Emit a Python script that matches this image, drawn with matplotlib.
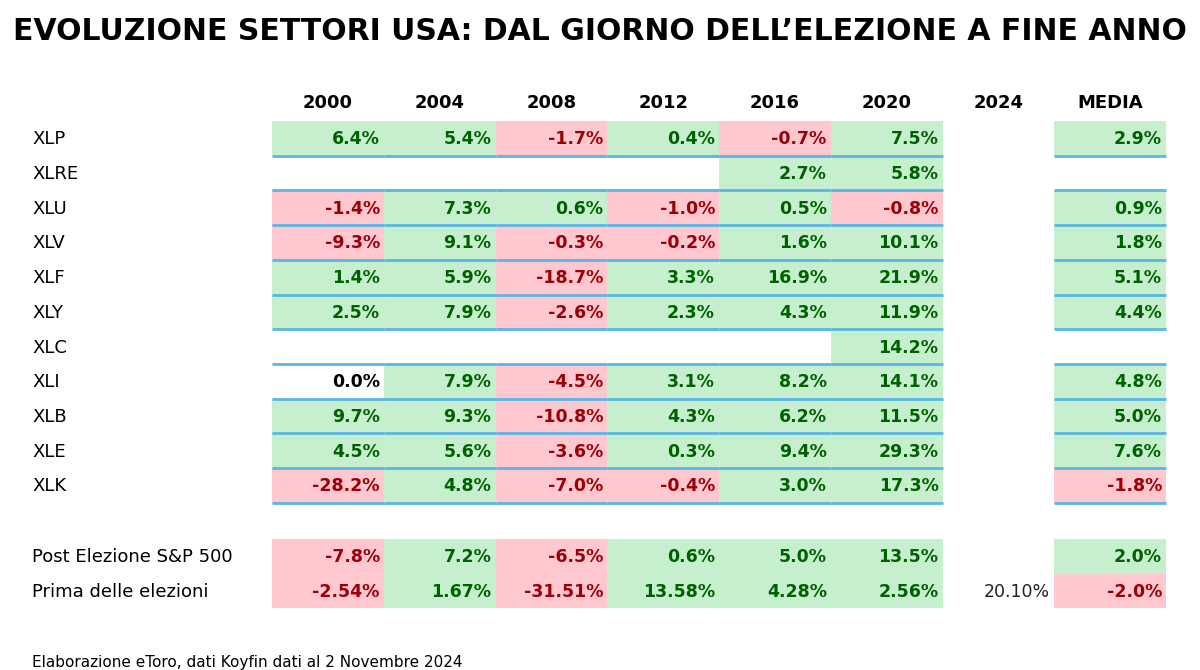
import matplotlib
matplotlib.use("Agg")
import matplotlib.pyplot as plt
from matplotlib.patches import Rectangle

years = ["2000", "2004", "2008", "2012", "2016", "2020", "2024", "MEDIA"]
sectors = ["XLP", "XLRE", "XLU", "XLV", "XLF", "XLY", "XLC", "XLI", "XLB", "XLE", "XLK"]
N = None
sector_vals = [
    [6.4, 5.4, -1.7, 0.4, -0.7, 7.5, N, 2.9],
    [N, N, N, N, 2.7, 5.8, N, N],
    [-1.4, 7.3, 0.6, -1.0, 0.5, -0.8, N, 0.9],
    [-9.3, 9.1, -0.3, -0.2, 1.6, 10.1, N, 1.8],
    [1.4, 5.9, -18.7, 3.3, 16.9, 21.9, N, 5.1],
    [2.5, 7.9, -2.6, 2.3, 4.3, 11.9, N, 4.4],
    [N, N, N, N, N, 14.2, N, N],
    [0.0, 7.9, -4.5, 3.1, 8.2, 14.1, N, 4.8],
    [9.7, 9.3, -10.8, 4.3, 6.2, 11.5, N, 5.0],
    [4.5, 5.6, -3.6, 0.3, 9.4, 29.3, N, 7.6],
    [-28.2, 4.8, -7.0, -0.4, 3.0, 17.3, N, -1.8],
]
post_label = "Post Elezione S&P 500"
post_vals = [-7.8, 7.2, -6.5, 0.6, 5.0, 13.5, N, 2.0]
prima_label = "Prima delle elezioni"
prima_vals = [-2.54, 1.67, -31.51, 13.58, 4.28, 2.56, 20.10, -2.0]

GREEN_BG, GREEN_TX = "#C6EFCE", "#006100"
RED_BG, RED_TX = "#FFC7CE", "#9C0006"
BLUE = "#5BB5E6"

fig = plt.figure(figsize=(12, 6.7), dpi=100)
ax = fig.add_axes([0, 0, 1, 1])
ax.set_xlim(0, 1200); ax.set_ylim(670, 0); ax.axis("off")

x0, cw = 272, 111.75
rh = 34.7
top0 = 121

fig.text(0.5, 1 - 32 / 670, "EVOLUZIONE SETTORI USA: DAL GIORNO DELL\u2019ELEZIONE A FINE ANNO",
         ha="center", va="center", fontsize=21.5, fontweight="heavy",
         family="DejaVu Sans")

for j, y in enumerate(years):
    ax.text(x0 + cw * (j + 0.5), 103, y, ha="center", va="center",
            fontsize=13, fontweight="bold")

def cell(j, top, v, decimals, colored=True):
    left = x0 + cw * j
    if colored:
        if v > 0:
            bg, tx = GREEN_BG, GREEN_TX
        elif v < 0:
            bg, tx = RED_BG, RED_TX
        else:
            bg, tx = "white", "black"
        ax.add_patch(Rectangle((left, top), cw, rh, facecolor=bg, edgecolor="none"))
        weight = "bold"
    else:
        tx, weight = "#222222", "normal"
    ax.text(left + cw - 4, top + rh / 2 + 1, f"{v:.{decimals}f}%", ha="right",
            va="center", fontsize=12.5, fontweight=weight, color=tx)

for i, (name, row) in enumerate(zip(sectors, sector_vals)):
    top = top0 + rh * i
    ax.text(32, top + rh / 2 + 1, name, ha="left", va="center", fontsize=13)
    for j, v in enumerate(row):
        if v is None:
            continue
        cell(j, top, v, 1)
        left = x0 + cw * j
        ax.plot([left, left + cw], [top + rh, top + rh], color=BLUE, lw=2, solid_capstyle="butt")
        if i > 0 and sector_vals[i - 1][j] is None:
            ax.plot([left, left + cw], [top, top], color=BLUE, lw=2, solid_capstyle="butt")

for k, (label, row, dec) in enumerate([(post_label, post_vals, 1), (prima_label, prima_vals, 2)]):
    top = 539 + rh * k
    ax.text(32, top + rh / 2 + 1, label, ha="left", va="center", fontsize=13)
    for j, v in enumerate(row):
        if v is None:
            continue
        cell(j, top, v, 1 if j == 7 else dec, colored=(j != 6))

ax.text(32, 662, "Elaborazione eToro, dati Koyfin dati al 2 Novembre 2024",
        ha="left", va="center", fontsize=11)

fig.savefig("out.png", dpi=100)
